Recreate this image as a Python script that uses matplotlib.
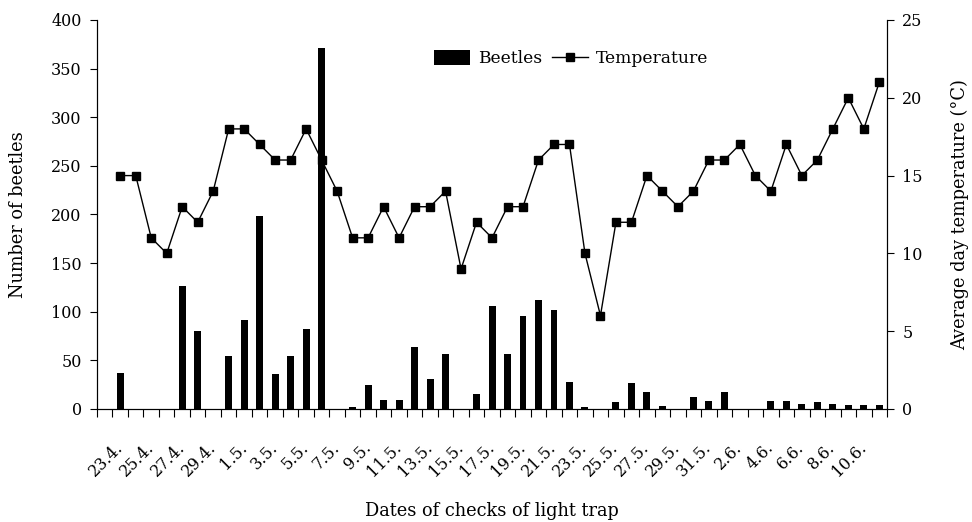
import matplotlib
matplotlib.use('Agg')
import matplotlib.pyplot as plt
import numpy as np

# Dates of checks (23.4. - 11.6.)
dates = ([f'{d}.4.' for d in range(23, 31)] +
         [f'{d}.5.' for d in range(1, 32)] +
         [f'{d}.6.' for d in range(1, 12)])

beetles = [37, 0, 0, 0, 126, 80, 0, 54, 91, 198,
           36, 55, 82, 371, 0, 2, 25, 9, 9, 64,
           31, 57, 0, 15, 106, 57, 96, 112, 102, 28,
           2, 0, 7, 27, 17, 3, 0, 12, 8, 17,
           0, 0, 8, 8, 5, 7, 5, 4, 4, 4]

temperature = [15, 15, 11, 10, 13, 12, 14, 18, 18, 17,
               16, 16, 18, 16, 14, 11, 11, 13, 11, 13,
               13, 14, 9, 12, 11, 13, 13, 16, 17, 17,
               10, 6, 12, 12, 15, 14, 13, 14, 16, 16,
               17, 15, 14, 17, 15, 16, 18, 20, 18, 21]

plt.rcParams['font.family'] = ['DejaVu Serif']
plt.rcParams['font.size'] = 11.5

fig, ax = plt.subplots(figsize=(9.72, 5.22), dpi=100)
fig.subplots_adjust(left=0.0998, right=0.9126, top=0.9617, bottom=0.2165)

# first category slot on the axis is empty
x = np.arange(len(dates)) + 1

ax.bar(x, beetles, width=0.45, color='black', label='Beetles', zorder=2)
ax.set_ylim(0, 400)
ax.set_yticks(np.arange(0, 401, 50))
ax.set_xlim(-0.5, len(dates) + 0.5)
ax.set_ylabel('Number of beetles', fontsize=12.8, labelpad=17)
ax.set_xlabel('Dates of checks of light trap', fontsize=12.8, labelpad=16)

ax2 = ax.twinx()
ax2.plot(x, temperature, color='black', linewidth=1, marker='s', markersize=6,
         label='Temperature', zorder=3)
ax2.set_ylim(0, 25)
ax2.set_yticks(np.arange(0, 26, 5))
ax2.set_ylabel('Average day temperature (°C)', fontsize=12.8, labelpad=20)

# category boundaries as ticks, labels every second date
ax.set_xticks(np.arange(-0.5, len(dates) + 1, 1))
ax.set_xticklabels([])
ax.set_xticks(x[::2], minor=True)
ax.set_xticklabels(dates[::2], minor=True, rotation=45, ha='right',
                   va='center', rotation_mode='anchor')
ax.tick_params(axis='x', which='major', direction='out', length=6, width=0.8)
ax.tick_params(axis='x', which='minor', length=0, pad=26)
ax.tick_params(axis='y', direction='out', length=5, width=0.8, pad=6)
ax2.tick_params(axis='y', direction='out', length=5, width=0.8, pad=6)

for a in (ax, ax2):
    a.spines['top'].set_visible(False)
    for s in a.spines.values():
        s.set_linewidth(0.8)

h1, l1 = ax.get_legend_handles_labels()
h2, l2 = ax2.get_legend_handles_labels()
ax2.legend(h1 + h2, l1 + l2, loc='center', bbox_to_anchor=(0.6, 0.9), ncol=2,
           frameon=False, handlelength=2.1, handleheight=0.9, columnspacing=0.6,
           handletextpad=0.45, fontsize=12.3)

fig.savefig('out.png', dpi=100)
